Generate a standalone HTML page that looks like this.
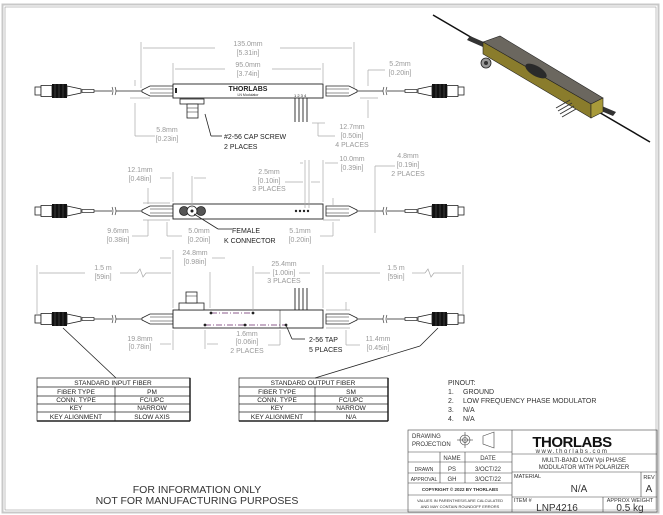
<!DOCTYPE html>
<html><head><meta charset="utf-8"><style>
html,body{margin:0;padding:0;background:#fff;}
svg{display:block;}
text{font-family:"Liberation Sans",sans-serif;}
.d{fill:#999;font-size:7px;text-anchor:middle;}
.k{fill:#222;font-size:7px;}
.g{stroke:#aaa;stroke-width:0.7;fill:none;}
.t{font-size:6.5px;fill:#222;text-anchor:middle;}
</style></head><body>
<svg width="663" height="515" viewBox="0 0 663 515" xmlns="http://www.w3.org/2000/svg">
<defs>
<g id="conn">
  <rect x="35" y="-4" width="6" height="8" fill="#fff" stroke="#222" stroke-width="0.8"/>
  <rect x="41" y="-5.5" width="11" height="11" fill="#fff" stroke="#222" stroke-width="0.8"/>
  <rect x="52" y="-7" width="15" height="14" fill="#111"/>
  <line x1="55" y1="-7" x2="55" y2="7" stroke="#666" stroke-width="0.5"/>
  <line x1="59" y1="-7" x2="59" y2="7" stroke="#666" stroke-width="0.5"/>
  <line x1="63" y1="-7" x2="63" y2="7" stroke="#666" stroke-width="0.5"/>
  <polygon points="67,-5 81,-2 81,2 67,5" fill="#fff" stroke="#222" stroke-width="0.8"/>
  <rect x="82" y="-1.5" width="12" height="3" fill="#fff" stroke="#222" stroke-width="0.7"/>
  <line x1="94" y1="0" x2="112" y2="0" stroke="#222" stroke-width="0.8"/>
  <path d="M112,-4 q2,4 0,8 M115,-4 q2,4 0,8" stroke="#222" stroke-width="0.6" fill="none"/>
  <line x1="116" y1="0" x2="142" y2="0" stroke="#222" stroke-width="0.8"/>
  <polygon points="142,-1 150,-5 173,-5 173,5 150,5 142,1" fill="#fff" stroke="#222" stroke-width="0.8"/>
  <line x1="150" y1="-2" x2="173" y2="-2" stroke="#222" stroke-width="0.5"/>
  <line x1="150" y1="2" x2="173" y2="2" stroke="#222" stroke-width="0.5"/>
</g>
<g id="pair">
  <use href="#conn"/>
  <use href="#conn" transform="translate(499,0) scale(-1,1)"/>
</g>
</defs>

<!-- frame -->
<rect x="2.5" y="4.5" width="656" height="508" fill="none" stroke="#c8c8c8" stroke-width="2"/>
<rect x="5" y="7" width="651" height="503" fill="none" stroke="#888" stroke-width="0.5"/>

<!-- VIEW 1 -->
<use href="#pair" transform="translate(0,91)"/>
<rect x="173" y="84" width="150" height="14" fill="#fff" stroke="#222" stroke-width="0.9"/>
<text x="248" y="91" font-size="7" font-weight="bold" text-anchor="middle" fill="#222">THORLABS</text>
<text x="248" y="96" font-size="3.5" text-anchor="middle" fill="#222">LN Modulator</text>
<rect x="175" y="88" width="2" height="5" fill="#222"/>
<text x="186" y="103" font-size="4" fill="#222">RF Input</text>
<text x="294" y="97" font-size="4" fill="#222">1 2 3 4</text>
<g stroke="#222" stroke-width="0.9"><line x1="295" y1="98" x2="295" y2="122"/><line x1="299" y1="98" x2="299" y2="122"/><line x1="303" y1="98" x2="303" y2="122"/><line x1="307" y1="98" x2="307" y2="122"/></g>
<rect x="180" y="99" width="24" height="5" fill="#fff" stroke="#222" stroke-width="0.8"/>
<rect x="187" y="104" width="11" height="14" fill="#fff" stroke="#222" stroke-width="0.8"/>
<line x1="187" y1="108" x2="198" y2="108" stroke="#222" stroke-width="0.5"/>
<line x1="187" y1="112" x2="198" y2="112" stroke="#222" stroke-width="0.5"/>
<line x1="205" y1="114" x2="211" y2="136" stroke="#222" stroke-width="0.8"/>
<line x1="211" y1="136" x2="222" y2="136" stroke="#222" stroke-width="0.8"/>
<text class="k" x="224" y="139">#2-56 CAP SCREW</text>
<text class="k" x="224" y="149">2 PLACES</text>
<!-- dims -->
<g class="g">
<line x1="141" y1="42" x2="141" y2="88"/><line x1="354" y1="42" x2="354" y2="88"/>
<line x1="143" y1="48" x2="215" y2="48"/><line x1="280" y1="48" x2="352" y2="48"/>
<line x1="173" y1="63" x2="173" y2="83"/><line x1="323" y1="63" x2="323" y2="83"/>
<line x1="175" y1="69" x2="225" y2="69"/><line x1="272" y1="69" x2="321" y2="69"/>
<line x1="135" y1="103" x2="135" y2="136"/><line x1="135" y1="136" x2="155" y2="136"/>
<line x1="135" y1="80" x2="135" y2="86"/><line x1="130" y1="98" x2="150" y2="98"/>
<line x1="368" y1="70" x2="368" y2="86"/><line x1="368" y1="70" x2="385" y2="70"/>
<line x1="368" y1="100" x2="368" y2="118"/><line x1="360" y1="98" x2="378" y2="98"/>
<line x1="318" y1="123" x2="318" y2="136"/><line x1="318" y1="136" x2="335" y2="136"/><line x1="312" y1="123" x2="325" y2="123"/>
</g>
<text class="d" x="248" y="46">135.0mm</text><text class="d" x="248" y="55">[5.31in]</text>
<text class="d" x="248" y="67">95.0mm</text><text class="d" x="248" y="76">[3.74in]</text>
<text class="d" x="400" y="66">5.2mm</text><text class="d" x="400" y="75">[0.20in]</text>
<text class="d" x="167" y="132">5.8mm</text><text class="d" x="167" y="141">[0.23in]</text>
<text class="d" x="352" y="129">12.7mm</text><text class="d" x="352" y="138">[0.50in]</text><text class="d" x="352" y="147">4 PLACES</text>

<!-- 3D view -->
<line x1="433" y1="15" x2="650" y2="142" stroke="#111" stroke-width="1.5"/>
<polygon points="470,36 486,43 483,47 467,40" fill="#333"/>
<polygon points="597,104 616,112 613,116 594,108" fill="#333"/>
<polygon points="483,42 500,36 603,98 591,104" fill="#6b675f" stroke="#222" stroke-width="0.6"/>
<polygon points="483,42 591,104 591,118 483,54" fill="#8a7c2c" stroke="#222" stroke-width="0.6"/>
<polygon points="591,104 603,98 603,112 591,118" fill="#a89a3a" stroke="#222" stroke-width="0.6"/>
<ellipse cx="536" cy="71" rx="12" ry="5" transform="rotate(30 536 71)" fill="#2a2a2a"/>
<circle cx="486" cy="63" r="5" fill="#999" stroke="#222" stroke-width="0.8"/>
<circle cx="486" cy="63" r="2" fill="#333"/>
<g stroke="#333" stroke-width="1"><line x1="556" y1="108" x2="570" y2="100"/><line x1="558" y1="111" x2="572" y2="103"/><line x1="560" y1="114" x2="574" y2="106"/><line x1="562" y1="117" x2="576" y2="109"/></g>

<!-- VIEW 2 -->
<use href="#pair" transform="translate(0,211)"/>
<rect x="173" y="204" width="150" height="15" fill="#fff" stroke="#222" stroke-width="0.9"/>
<circle cx="184" cy="211" r="4.5" fill="#555" stroke="#222" stroke-width="0.8"/>
<circle cx="201" cy="211" r="4.5" fill="#555" stroke="#222" stroke-width="0.8"/>
<circle cx="192" cy="211" r="5" fill="#fff" stroke="#222" stroke-width="0.8"/>
<circle cx="192" cy="211" r="1.5" fill="#222"/>
<g fill="#222"><circle cx="296" cy="211" r="1.2"/><circle cx="300" cy="211" r="1.2"/><circle cx="304" cy="211" r="1.2"/><circle cx="308" cy="211" r="1.2"/></g>
<line x1="194" y1="214" x2="218" y2="229" stroke="#222" stroke-width="0.8"/>
<line x1="218" y1="229" x2="232" y2="229" stroke="#222" stroke-width="0.8"/>
<text class="k" x="232" y="233">FEMALE</text><text class="k" x="224" y="243">K CONNECTOR</text>
<g class="g">
<line x1="173" y1="172" x2="173" y2="202"/><line x1="160" y1="178" x2="171" y2="178"/>
<line x1="192" y1="176" x2="192" y2="208"/><line x1="194" y1="178" x2="206" y2="178"/>
<line x1="148" y1="188" x2="148" y2="204"/><line x1="143" y1="203" x2="170" y2="203"/>
<line x1="148" y1="220" x2="148" y2="236"/><line x1="143" y1="220" x2="170" y2="220"/>
<line x1="132" y1="236" x2="148" y2="236"/>
<line x1="167" y1="222" x2="167" y2="236"/><line x1="167" y1="236" x2="182" y2="236"/>
<line x1="305" y1="160" x2="305" y2="208"/><line x1="309" y1="160" x2="309" y2="208"/>
<line x1="285" y1="182" x2="303" y2="182"/><line x1="311" y1="182" x2="320" y2="182"/>
<line x1="323" y1="160" x2="323" y2="202"/><line x1="300" y1="163" x2="303" y2="163"/><line x1="325" y1="163" x2="338" y2="163"/>
<line x1="333" y1="198" x2="333" y2="207"/><line x1="323" y1="220" x2="340" y2="220"/>
<line x1="333" y1="222" x2="333" y2="236"/><line x1="320" y1="236" x2="333" y2="236"/>
<line x1="375" y1="166" x2="375" y2="233"/><line x1="375" y1="166" x2="395" y2="166"/>
</g>
<text class="d" x="140" y="172">12.1mm</text><text class="d" x="140" y="181">[0.48in]</text>
<text class="d" x="269" y="174">2.5mm</text><text class="d" x="269" y="183">[0.10in]</text><text class="d" x="269" y="191">3 PLACES</text>
<text class="d" x="352" y="161">10.0mm</text><text class="d" x="352" y="170">[0.39in]</text>
<text class="d" x="408" y="158">4.8mm</text><text class="d" x="408" y="167">[0.19in]</text><text class="d" x="408" y="176">2 PLACES</text>
<text class="d" x="118" y="233">9.6mm</text><text class="d" x="118" y="242">[0.38in]</text>
<text class="d" x="199" y="233">5.0mm</text><text class="d" x="199" y="242">[0.20in]</text>
<text class="d" x="300" y="233">5.1mm</text><text class="d" x="300" y="242">[0.20in]</text>

<!-- VIEW 3 -->
<use href="#pair" transform="translate(0,319)"/>
<rect x="173" y="310" width="150" height="18" fill="#fff" stroke="#222" stroke-width="0.9"/>
<line x1="280" y1="310" x2="280" y2="328" stroke="#222" stroke-width="0.5"/>
<g stroke="#222" stroke-width="0.9"><line x1="295" y1="288" x2="295" y2="310"/><line x1="299" y1="288" x2="299" y2="310"/><line x1="303" y1="288" x2="303" y2="310"/><line x1="307" y1="288" x2="307" y2="310"/></g>
<rect x="179" y="303" width="25" height="7" fill="#fff" stroke="#222" stroke-width="0.8"/>
<rect x="186" y="292" width="11" height="11" fill="#fff" stroke="#222" stroke-width="0.8"/>
<line x1="186" y1="296" x2="197" y2="296" stroke="#222" stroke-width="0.5"/>
<line x1="211" y1="313" x2="253" y2="313" stroke="#6a2a6a" stroke-width="0.8" stroke-dasharray="6,2,1,2"/>
<line x1="205" y1="325" x2="286" y2="325" stroke="#6a2a6a" stroke-width="0.8" stroke-dasharray="6,2,1,2"/>
<g fill="#222"><circle cx="211" cy="313" r="1.4"/><circle cx="253" cy="313" r="1.4"/><circle cx="205" cy="325" r="1.4"/><circle cx="245" cy="325" r="1.4"/><circle cx="286" cy="325" r="1.4"/></g>
<line x1="286" y1="325" x2="292" y2="339" stroke="#222" stroke-width="0.8"/>
<line x1="292" y1="339" x2="305" y2="339" stroke="#222" stroke-width="0.8"/>
<text class="k" x="309" y="342">2-56 TAP</text><text class="k" x="309" y="352">5 PLACES</text>
<line x1="63" y1="328" x2="116" y2="378" stroke="#222" stroke-width="0.8"/>
<line x1="438" y1="328" x2="420" y2="346" stroke="#222" stroke-width="0.8"/>
<line x1="420" y1="346" x2="315" y2="378" stroke="#222" stroke-width="0.8"/>
<g class="g">
<line x1="37" y1="265" x2="37" y2="315"/><line x1="173" y1="250" x2="173" y2="308"/>
<line x1="39" y1="273" x2="85" y2="273"/><line x1="120" y1="273" x2="137" y2="273"/><path d="M137,273 l3,-4 l3,8 l3,-4 L171,273"/>
<line x1="323" y1="265" x2="323" y2="308"/><line x1="463" y1="265" x2="463" y2="315"/>
<line x1="325" y1="273" x2="380" y2="273"/><line x1="412" y1="273" x2="425" y2="273"/><path d="M425,273 l3,-4 l3,8 l3,-4 L461,273"/>
<line x1="210" y1="272" x2="210" y2="308"/><line x1="160" y1="258" x2="171" y2="258"/><line x1="212" y1="258" x2="225" y2="258"/>
<line x1="253" y1="266" x2="253" y2="310"/><line x1="255" y1="273" x2="270" y2="273"/><line x1="299" y1="273" x2="310" y2="273"/>
<line x1="173" y1="330" x2="173" y2="350"/><line x1="160" y1="344" x2="171" y2="344"/><line x1="205" y1="330" x2="205" y2="349"/><line x1="207" y1="344" x2="218" y2="344"/>
<line x1="280" y1="330" x2="280" y2="345"/><line x1="268" y1="345" x2="280" y2="345"/>
<line x1="346" y1="302" x2="346" y2="310"/><line x1="326" y1="310" x2="350" y2="310"/><line x1="326" y1="328" x2="350" y2="328"/>
<line x1="346" y1="330" x2="346" y2="345"/><line x1="346" y1="345" x2="360" y2="345"/>
</g>
<text class="d" x="103" y="270">1.5 m</text><text class="d" x="103" y="279">[59in]</text>
<text class="d" x="396" y="270">1.5 m</text><text class="d" x="396" y="279">[59in]</text>
<text class="d" x="195" y="255">24.8mm</text><text class="d" x="195" y="264">[0.98in]</text>
<text class="d" x="284" y="266">25.4mm</text><text class="d" x="284" y="275">[1.00in]</text><text class="d" x="284" y="283">3 PLACES</text>
<text class="d" x="140" y="341">19.8mm</text><text class="d" x="140" y="349">[0.78in]</text>
<text class="d" x="247" y="336">1.6mm</text><text class="d" x="247" y="344">[0.06in]</text><text class="d" x="247" y="353">2 PLACES</text>
<text class="d" x="378" y="341">11.4mm</text><text class="d" x="378" y="350">[0.45in]</text>

<!-- tables -->
<g stroke="#222" stroke-width="0.7" fill="none">
<rect x="37" y="378" width="153" height="43"/>
<line x1="37" y1="387" x2="190" y2="387"/><line x1="37" y1="396" x2="190" y2="396"/><line x1="37" y1="404" x2="190" y2="404"/><line x1="37" y1="412" x2="190" y2="412"/>
<line x1="115" y1="387" x2="115" y2="421"/>
<line x1="190" y1="378" x2="190" y2="421" stroke-width="1.5"/><line x1="37" y1="421" x2="190" y2="421" stroke-width="1.5"/>
<rect x="239" y="378" width="149" height="43"/>
<line x1="239" y1="387" x2="388" y2="387"/><line x1="239" y1="396" x2="388" y2="396"/><line x1="239" y1="404" x2="388" y2="404"/><line x1="239" y1="412" x2="388" y2="412"/>
<line x1="315" y1="387" x2="315" y2="421"/>
<line x1="388" y1="378" x2="388" y2="421" stroke-width="1.5"/><line x1="239" y1="421" x2="388" y2="421" stroke-width="1.5"/>
</g>
<g class="t">
<text x="113" y="385">STANDARD INPUT FIBER</text>
<text x="76" y="394">FIBER TYPE</text><text x="152" y="394">PM</text>
<text x="76" y="402">CONN. TYPE</text><text x="152" y="402">FC/UPC</text>
<text x="76" y="410">KEY</text><text x="152" y="410">NARROW</text>
<text x="76" y="419">KEY ALIGNMENT</text><text x="152" y="419">SLOW AXIS</text>
<text x="313" y="385">STANDARD OUTPUT FIBER</text>
<text x="277" y="394">FIBER TYPE</text><text x="351" y="394">SM</text>
<text x="277" y="402">CONN. TYPE</text><text x="351" y="402">FC/UPC</text>
<text x="277" y="410">KEY</text><text x="351" y="410">NARROW</text>
<text x="277" y="419">KEY ALIGNMENT</text><text x="351" y="419">N/A</text>
</g>
<g font-size="7" fill="#333">
<text x="448" y="385">PINOUT:</text>
<text x="448" y="394">1.</text><text x="463" y="394">GROUND</text>
<text x="448" y="403">2.</text><text x="463" y="403">LOW FREQUENCY PHASE MODULATOR</text>
<text x="448" y="412">3.</text><text x="463" y="412">N/A</text>
<text x="448" y="421">4.</text><text x="463" y="421">N/A</text>
</g>

<!-- title block -->
<g stroke="#444" stroke-width="0.6" fill="none">
<rect x="408" y="430" width="249" height="82"/>
<line x1="512" y1="430" x2="512" y2="512"/>
<line x1="408" y1="452" x2="512" y2="452"/><line x1="408" y1="462" x2="512" y2="462"/><line x1="408" y1="473" x2="512" y2="473"/><line x1="408" y1="483" x2="512" y2="483"/><line x1="408" y1="495" x2="512" y2="495"/>
<line x1="440" y1="452" x2="440" y2="483"/><line x1="465" y1="452" x2="465" y2="483"/>
<line x1="512" y1="454" x2="657" y2="454"/><line x1="512" y1="472" x2="657" y2="472"/><line x1="512" y1="497" x2="657" y2="497"/>
<line x1="641" y1="472" x2="641" y2="497"/><line x1="603" y1="497" x2="603" y2="512"/>
<circle cx="465" cy="440" r="5"/><circle cx="465" cy="440" r="2.5"/>
<line x1="457" y1="440" x2="473" y2="440"/><line x1="465" y1="432" x2="465" y2="448"/>
<polygon points="483,436 494,432 494,448 483,444"/>
</g>
<g font-size="6" fill="#333">
<text x="412" y="438">DRAWING</text><text x="412" y="446">PROJECTION</text>
<text x="452" y="460" text-anchor="middle">NAME</text><text x="488" y="460" text-anchor="middle">DATE</text>
<text x="424" y="471" text-anchor="middle" font-size="5">DRAWN</text><text x="452" y="471" text-anchor="middle">PS</text><text x="488" y="471" text-anchor="middle">3/OCT/22</text>
<text x="424" y="481" text-anchor="middle" font-size="5">APPROVAL</text><text x="452" y="481" text-anchor="middle">GH</text><text x="488" y="481" text-anchor="middle">3/OCT/22</text>
<text x="460" y="491" text-anchor="middle" font-size="4.5" font-weight="bold">COPYRIGHT © 2022 BY THORLABS</text>
<text x="460" y="502" text-anchor="middle" font-size="4">VALUES IN PARENTHESIS ARE CALCULATED</text>
<text x="460" y="508" text-anchor="middle" font-size="4">AND MAY CONTAIN ROUNDOFF ERRORS</text>
</g>
<text x="572" y="447" text-anchor="middle" font-size="15" font-weight="bold" fill="#111" letter-spacing="-0.5">THORLABS</text>
<text x="572" y="453" text-anchor="middle" font-size="6" fill="#333" letter-spacing="1.5">www.thorlabs.com</text>
<text x="584" y="462" text-anchor="middle" font-size="6" fill="#333">MULTI-BAND LOW Vpi PHASE</text>
<text x="584" y="469" text-anchor="middle" font-size="6" fill="#333">MODULATOR WITH POLARIZER</text>
<text x="514" y="478" font-size="5.5" fill="#333">MATERIAL</text>
<text x="579" y="492" text-anchor="middle" font-size="10" fill="#333">N/A</text>
<text x="649" y="479" text-anchor="middle" font-size="5.5" fill="#333">REV</text>
<text x="649" y="492" text-anchor="middle" font-size="10" fill="#333">A</text>
<text x="514" y="502" font-size="5.5" fill="#333">ITEM #</text>
<text x="557" y="511" text-anchor="middle" font-size="10" fill="#333">LNP4216</text>
<text x="630" y="502" text-anchor="middle" font-size="5.5" fill="#333">APPROX WEIGHT</text>
<text x="630" y="511" text-anchor="middle" font-size="10" fill="#333">0.5 kg</text>

<text x="197" y="493" text-anchor="middle" font-size="10.5" fill="#333">FOR INFORMATION ONLY</text>
<text x="197" y="504" text-anchor="middle" font-size="10.5" fill="#333">NOT FOR MANUFACTURING PURPOSES</text>
</svg>
</body></html>
